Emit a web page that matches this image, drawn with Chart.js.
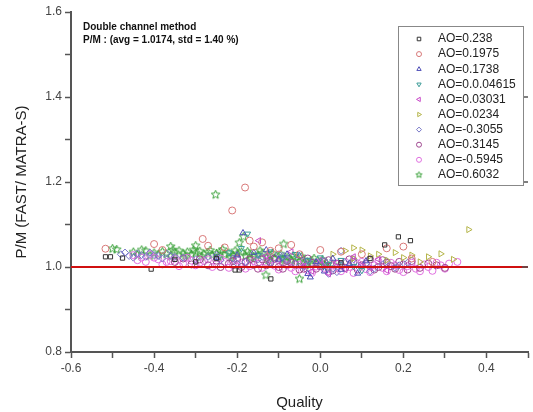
<!DOCTYPE html>
<html>
<head>
<meta charset="utf-8">
<script src="https://cdn.jsdelivr.net/npm/chart.js@4/dist/chart.umd.min.js"></script>
<style>
  html, body { margin: 0; padding: 0; background: #fff; }
  #wrap { width: 533px; height: 412px; }
</style>
</head>
<body>
<div id="wrap"><canvas id="myChart" width="533" height="412"></canvas></div>
<script>
// series labels (as in the legend)
var seriesNames = ['AO=0.238', 'AO=0.1975', 'AO=0.1738', 'AO=0.0.04615', 'AO=0.03031',
                   'AO=0.0234', 'AO=-0.3055', 'AO=0.3145', 'AO=-0.5945', 'AO=0.6032'];

// points: [Quality, P/M]
var ao0238 = [[-0.517,1.024],[-0.505,1.024],[-0.476,1.021],[-0.407,0.995],[-0.35,1.018],[-0.30,1.012],
  [-0.25,1.020],[-0.205,0.993],[-0.195,0.993],[-0.119,0.972],[0.05,1.010],[0.12,1.020],
  [0.155,1.052],[0.188,1.071],[0.217,1.062]];
var ao01975 = [[-0.517,1.043],[-0.40,1.054],[-0.38,1.040],[-0.283,1.066],[-0.27,1.050],[-0.23,1.046],
  [-0.212,1.133],[-0.181,1.187],[-0.17,1.062],[-0.16,1.048],[-0.14,1.058],[-0.12,1.038],[-0.10,1.044],
  [-0.07,1.052],[-0.05,1.030],[0.0,1.040],[0.05,1.036],[0.10,1.030],[0.16,1.044],[0.20,1.048],
  [0.22,1.020],[0.27,1.012]];
var ao01738 = [[-0.25,1.022],[-0.20,1.028],[-0.186,1.080],[-0.16,1.034],[-0.13,1.040],[-0.10,1.018],
  [-0.08,1.030],[-0.05,1.026],[-0.03,0.984],[-0.024,0.976],[-0.01,1.012],[0.01,0.990],[0.03,1.020],
  [0.05,0.994],[0.07,1.008],[0.09,0.985],[0.11,1.014]];
var ao004615 = [[-0.22,1.034],[-0.19,1.044],[-0.175,1.078],[-0.15,1.028],[-0.12,1.036],[-0.09,1.022],
  [-0.06,1.030],[-0.03,1.016],[0.0,1.022],[0.02,1.006],[0.05,1.016],[0.08,1.002],[0.10,0.992]];
var ao003031 = [[-0.148,1.062],[-0.13,1.026],[-0.10,1.016],[-0.07,1.036],[-0.04,1.002],[-0.02,0.990],
  [0.0,1.016],[0.02,0.984],[0.04,1.010],[0.06,0.994],[0.08,1.024],[0.10,1.004],[0.12,0.998],
  [0.14,1.018],[0.16,0.992]];
var ao00234 = [[0.03,1.030],[0.06,1.038],[0.08,1.020],[0.08,1.045],[0.10,1.040],[0.12,1.026],[0.14,1.030],
  [0.16,1.016],[0.18,1.034],[0.20,1.022],[0.22,1.028],[0.24,1.012],[0.26,1.024],[0.29,1.031],
  [0.32,1.018],[0.357,1.088]];
var aoM03055 = [[-0.48,1.030],[-0.47,1.034],[-0.46,1.026],[-0.45,1.022],[-0.44,1.032],[-0.43,1.028],
  [-0.42,1.024],[-0.41,1.034],[-0.40,1.028],[-0.39,1.026],[-0.38,1.020],[-0.37,1.032],[-0.36,1.026],
  [-0.35,1.024],[-0.33,1.022],[-0.30,1.018],[-0.27,1.024],[-0.25,1.028],[-0.24,1.016],[-0.21,1.020],
  [-0.20,1.008],[-0.18,1.012],[-0.15,1.018],[-0.14,1.024],[-0.12,1.010],[-0.10,1.030],[-0.09,1.026],
  [-0.08,1.016],[-0.06,1.008],[-0.04,1.000],[-0.03,1.014],[0.0,1.004],[0.01,1.014],[0.02,0.984],
  [0.03,0.996],[0.04,0.988],[0.05,1.038],[0.06,1.010],[0.08,1.018],[0.09,1.002],[0.11,1.008],
  [0.12,0.990],[0.13,0.996],[0.15,1.006],[0.16,1.014],[0.18,0.998],[0.19,1.004],[0.21,1.010]];
var ao03145 = [[-0.35,1.012],[-0.33,1.020],[-0.31,1.006],[-0.29,1.018],[-0.27,1.004],[-0.25,1.015],
  [-0.24,1.000],[-0.22,1.008],[-0.21,1.014],[-0.20,1.020],[-0.19,1.000],[-0.18,1.012],[-0.17,1.018],
  [-0.16,1.005],[-0.15,0.996],[-0.14,1.018],[-0.13,1.004],[-0.12,1.010],[-0.11,1.020],[-0.10,1.000],
  [-0.09,0.996],[-0.08,1.014],[-0.07,1.010],[-0.06,1.006],[-0.05,0.994],[-0.04,0.996],[-0.03,1.020],
  [-0.02,1.010],[-0.01,0.996],[0.0,1.002],[0.01,1.012],[0.02,1.016],[0.03,0.992],[0.04,1.008],
  [0.05,1.004],[0.06,0.998],[0.07,1.018],[0.08,1.012],[0.09,0.994],[0.10,1.004],[0.11,1.008],
  [0.12,1.018],[0.13,0.994],[0.14,1.000],[0.15,1.016],[0.16,1.010],[0.17,1.002],[0.18,0.996],
  [0.19,1.012],[0.20,1.006],[0.21,0.994],[0.22,1.014],[0.24,0.998],[0.26,1.008],[0.28,1.004],[0.30,0.998]];
var aoM05945 = [[-0.45,1.028],[-0.44,1.016],[-0.43,1.022],[-0.42,1.012],[-0.41,1.030],[-0.40,1.022],
  [-0.39,1.018],[-0.38,1.006],[-0.37,1.012],[-0.36,1.014],[-0.35,1.020],[-0.34,1.002],[-0.33,1.008],
  [-0.32,1.022],[-0.31,1.015],[-0.30,1.004],[-0.29,1.010],[-0.28,1.014],[-0.27,1.018],[-0.26,1.000],
  [-0.25,1.006],[-0.24,1.020],[-0.23,1.012],[-0.22,0.998],[-0.21,1.004],[-0.20,1.016],[-0.19,1.010],
  [-0.18,0.996],[-0.17,1.002],[-0.16,1.014],[-0.15,1.008],[-0.14,0.998],[-0.13,1.012],[-0.12,1.018],
  [-0.11,1.003],[-0.10,0.994],[-0.09,1.009],[-0.08,1.004],[-0.07,0.998],[-0.06,0.990],[-0.05,1.005],
  [-0.04,1.012],[-0.03,0.992],[-0.02,0.986],[-0.01,1.001],[0.0,1.008],[0.01,0.996],[0.02,0.990],
  [0.03,1.004],[0.04,0.998],[0.05,0.990],[0.06,1.012],[0.07,1.000],[0.08,0.986],[0.09,1.008],
  [0.10,1.012],[0.11,0.995],[0.12,0.988],[0.13,1.004],[0.14,1.014],[0.15,0.998],[0.16,0.990],
  [0.17,1.010],[0.18,1.004],[0.19,0.993],[0.20,0.988],[0.21,1.002],[0.22,1.010],[0.23,0.996],
  [0.24,0.990],[0.25,1.006],[0.26,1.000],[0.27,0.991],[0.28,1.010],[0.29,1.004],[0.30,0.996],
  [0.31,1.008],[0.33,1.012]];
var ao06032 = [[-0.50,1.043],[-0.49,1.041],[-0.45,1.035],[-0.44,1.028],[-0.43,1.040],[-0.42,1.038],
  [-0.41,1.026],[-0.40,1.033],[-0.39,1.029],[-0.38,1.036],[-0.37,1.030],[-0.36,1.048],[-0.36,1.025],
  [-0.355,1.040],[-0.35,1.034],[-0.34,1.038],[-0.33,1.031],[-0.325,1.026],[-0.32,1.035],[-0.31,1.029],
  [-0.305,1.040],[-0.30,1.033],[-0.30,1.050],[-0.29,1.037],[-0.285,1.024],[-0.28,1.030],[-0.27,1.034],
  [-0.265,1.039],[-0.26,1.028],[-0.252,1.170],[-0.25,1.032],[-0.245,1.024],[-0.24,1.036],[-0.235,1.041],
  [-0.23,1.029],[-0.22,1.033],[-0.215,1.022],[-0.21,1.027],[-0.205,1.038],[-0.20,1.031],[-0.195,1.057],
  [-0.19,1.035],[-0.185,1.071],[-0.18,1.026],[-0.175,1.036],[-0.17,1.030],[-0.165,1.020],[-0.16,1.024],
  [-0.15,1.028],[-0.145,1.038],[-0.14,1.032],[-0.131,0.981],[-0.13,1.022],[-0.125,1.016],[-0.12,1.026],
  [-0.115,1.032],[-0.11,1.020],[-0.10,1.024],[-0.095,1.030],[-0.09,1.018],[-0.088,1.054],[-0.085,1.014],
  [-0.08,1.022],[-0.07,1.016],[-0.065,1.026],[-0.06,1.020],[-0.05,1.013],[-0.05,0.972],[-0.045,1.024],
  [-0.04,1.017],[-0.035,1.004],[-0.03,1.010],[-0.02,1.014],[-0.015,1.020],[-0.01,1.007],[0.0,1.011],
  [0.005,1.017],[0.01,1.003],[0.015,1.008],[0.02,0.998],[0.03,1.005]];

var xTicksRange = [-0.6, 0.5];
var yTicksRange = [0.8, 1.6];
var refLine = 1.0;
var noteLines = ['Double channel method', 'P/M : (avg = 1.0174, std = 1.40 %)'];

// open star marker like the origin plot
function starCanvas(color, rOut, rIn) {
    var n = Math.ceil(rOut * 2 + 2);
    var c = document.createElement('canvas');
    c.width = n; c.height = n;
    var g = c.getContext('2d');
    g.strokeStyle = color;
    g.lineWidth = 1;
    g.beginPath();
    for (var i = 0; i < 10; i++) {
        var r = i % 2 === 0 ? rOut : rIn;
        var a = -Math.PI / 2 + i * Math.PI / 5;
        var px = n / 2 + r * Math.cos(a), py = n / 2 + r * Math.sin(a);
        if (i === 0) g.moveTo(px, py); else g.lineTo(px, py);
    }
    g.closePath();
    g.stroke();
    return c;
}

var allData = [ao0238, ao01975, ao01738, ao004615, ao003031, ao00234, aoM03055, ao03145, aoM05945, ao06032];
var colors = ['#333333', '#d87878', '#5050b8', '#3c9c98', '#c848c8', '#b4b448', '#7878c8', '#a04890', '#e070e0', '#38a038'];
var styles = ['rect', 'circle', 'triangle', 'triangle', 'triangle', 'triangle', 'rectRot', 'circle', 'circle', starCanvas('#38a038', 4.5, 2)];
var legendStyles = styles.slice(0, 9).concat([starCanvas('#38a038', 3.2, 1.4)]);
var rotations = [0, 0, 0, 180, 270, 90, 0, 0, 0, 0];
var radii = [3, 3.5, 3.5, 3.5, 3.5, 3.5, 3.5, 3.5, 3.5, 4];

var datasets = allData.map(function (pts, i) {
    return {
        label: seriesNames[i],
        data: pts.map(function (p) { return { x: p[0], y: p[1] }; }),
        pointStyle: styles[i],
        rotation: rotations[i],
        pointRadius: radii[i],
        borderColor: colors[i],
        backgroundColor: 'rgba(0,0,0,0)',
        borderWidth: 1,
        showLine: false,
        order: 1
    };
});

datasets.push({
    label: 'ref',
    data: [{ x: xTicksRange[0] - 0.01, y: refLine }, { x: xTicksRange[1], y: refLine }],
    showLine: true,
    borderColor: '#d01010',
    borderWidth: 2,
    pointRadius: 0,
    order: 0
});

function tickLabel(v) {
    return Math.abs(Math.round(v * 10)) % 2 === 0 ? v.toFixed(1) : '';
}

var extras = {
    id: 'extras',
    afterDraw: function (chart) {
        var ctx = chart.ctx;
        var area = chart.chartArea;
        var ys = chart.scales.y;
        ctx.save();
        // right axis inner ticks
        ctx.strokeStyle = '#555';
        ctx.lineWidth = 1.5;
        [1.0, 1.2, 1.4].forEach(function (v) {
            var py = ys.getPixelForValue(v);
            ctx.beginPath();
            ctx.moveTo(area.right - 6, py);
            ctx.lineTo(area.right, py);
            ctx.stroke();
        });
        // note text
        ctx.fillStyle = '#111';
        ctx.font = 'bold 10px "Liberation Sans", Arial, sans-serif';
        ctx.textBaseline = 'middle';
        ctx.fillText(noteLines[0], 83, 27);
        ctx.fillText(noteLines[1], 83, 40);
        // legend box
        var bx = 398, by = 26, bw = 125, bh = 159;
        ctx.fillStyle = '#fff';
        ctx.fillRect(bx, by, bw, bh);
        ctx.strokeStyle = '#888';
        ctx.lineWidth = 1;
        ctx.strokeRect(bx + 0.5, by + 0.5, bw, bh);
        ctx.font = '12px "Liberation Sans", Arial, sans-serif';
        seriesNames.forEach(function (name, i) {
            var yy = 39 + i * 15.1;
            ctx.strokeStyle = colors[i];
            ctx.fillStyle = '#fff';
            ctx.lineWidth = 1;
            Chart.helpers.drawPoint(ctx, { pointStyle: legendStyles[i], radius: 2.5, rotation: rotations[i], borderWidth: 1 }, 419, yy);
            ctx.fillStyle = '#222';
            ctx.fillText(name, 438, yy);
        });
        ctx.restore();
    }
};

var ctx = document.getElementById('myChart').getContext('2d');
var myChart = new Chart(ctx, {
    type: 'scatter',
    data: { datasets: datasets },
    options: {
        responsive: false,
        animation: false,
        layout: { padding: { top: 12, right: 0, left: 0, bottom: 0 } },
        plugins: { legend: { display: false }, tooltip: { enabled: false } },
        scales: {
            x: {
                type: 'linear',
                min: xTicksRange[0],
                max: xTicksRange[1],
                afterFit: function (s) { s.height = 60; },
                border: { color: '#555', width: 2 },
                grid: { drawOnChartArea: false, tickLength: 6, tickColor: '#555', tickWidth: 1.5 },
                ticks: { stepSize: 0.1, autoSkip: false, maxRotation: 0, callback: tickLabel,
                         color: '#444', font: { size: 12, family: '"Liberation Sans", Arial, sans-serif' } },
                title: { display: true, text: 'Quality', color: '#222', padding: { top: 4, bottom: 0 },
                         font: { size: 15, family: '"Liberation Sans", Arial, sans-serif' } }
            },
            y: {
                type: 'linear',
                min: yTicksRange[0],
                max: yTicksRange[1],
                afterFit: function (s) { s.width = 71; },
                border: { color: '#555', width: 2 },
                grid: { drawOnChartArea: false, tickLength: 6, tickColor: '#555', tickWidth: 1.5 },
                ticks: { stepSize: 0.1, autoSkip: false, callback: tickLabel,
                         color: '#444', font: { size: 12, family: '"Liberation Sans", Arial, sans-serif' } },
                title: { display: true, text: 'P/M (FAST/ MATRA-S)', color: '#222', padding: { top: 13, bottom: 0 },
                         font: { size: 15, family: '"Liberation Sans", Arial, sans-serif' } }
            }
        }
    },
    plugins: [extras]
});
</script>
</body>
</html>
